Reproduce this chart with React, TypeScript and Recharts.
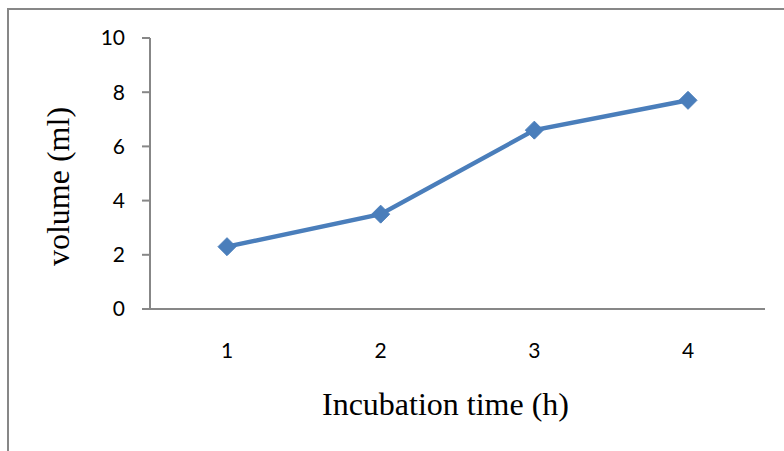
import React from "react";
import { LineChart, Line, XAxis, YAxis } from "recharts";

// incubation time (h) vs volume (ml)
const hours = ["1", "2", "3", "4"];
const volumes = [2.3, 3.5, 6.6, 7.7];
const yTicks = [0, 2, 4, 6, 8, 10];

const data = hours.map((h, i) => ({ time: h, volume: volumes[i] }));

const axisGray = "#878787";
const lineBlue = "#4A7EBB";
const tickFont = "Lato, 'Open Sans', sans-serif";
const titleFont = "'Liberation Serif', 'Times New Roman', serif";
const tickStyle = { fill: "#000", fontSize: 21, fontFamily: tickFont, style: { fontSize: 21 } };

function Diamond(props: any) {
  const { cx, cy } = props;
  if (cx == null || cy == null) return null;
  const r = 9;
  return (
    <polygon
      points={`${cx},${cy - r} ${cx + r},${cy} ${cx},${cy + r} ${cx - r},${cy}`}
      fill={lineBlue}
      stroke={lineBlue}
      strokeWidth={1}
    />
  );
}

export default function App() {
  return (
    <div style={{ position: "absolute", left: 0, top: 0, width: 784, height: 451, background: "#fff" }}>
      <div
        style={{
          position: "absolute",
          left: 7,
          top: 8,
          width: 777,
          height: 443,
          borderLeft: `2px solid ${axisGray}`,
          borderTop: `2px solid ${axisGray}`,
        }}
      />
      <div style={{ position: "absolute", left: 0, top: 0 }}>
        <LineChart width={784} height={451} data={data} margin={{ top: 38, right: 19, left: 0, bottom: 0 }}>
          <XAxis
            dataKey="time"
            height={142}
            padding={{ left: 77, right: 77 }}
            axisLine={{ stroke: axisGray, strokeWidth: 2 }}
            tickLine={false}
            tickSize={0}
            tickMargin={34}
            fontSize={21}
            tick={tickStyle}
            label={{
              value: "Incubation time (h)",
              position: "insideBottom",
              offset: 36,
              dx: -12,
              fill: "#000",
              fontSize: 32,
              fontFamily: titleFont,
            }}
          />
          <YAxis
            width={150}
            domain={[0, 10]}
            ticks={yTicks}
            interval={0}
            axisLine={{ stroke: axisGray, strokeWidth: 2 }}
            tickLine={{ stroke: axisGray, strokeWidth: 2 }}
            tickSize={8}
            tickMargin={17}
            fontSize={21}
            tick={tickStyle}
            label={{
              value: "volume (ml)",
              angle: -90,
              position: "insideLeft",
              offset: 58,
              dy: 13,
              fill: "#000",
              fontSize: 32,
              fontFamily: titleFont,
              style: { textAnchor: "middle" },
            }}
          />
          <Line
            dataKey="volume"
            stroke={lineBlue}
            strokeWidth={4.5}
            dot={<Diamond />}
            activeDot={false}
            isAnimationActive={false}
          />
        </LineChart>
      </div>
    </div>
  );
}
